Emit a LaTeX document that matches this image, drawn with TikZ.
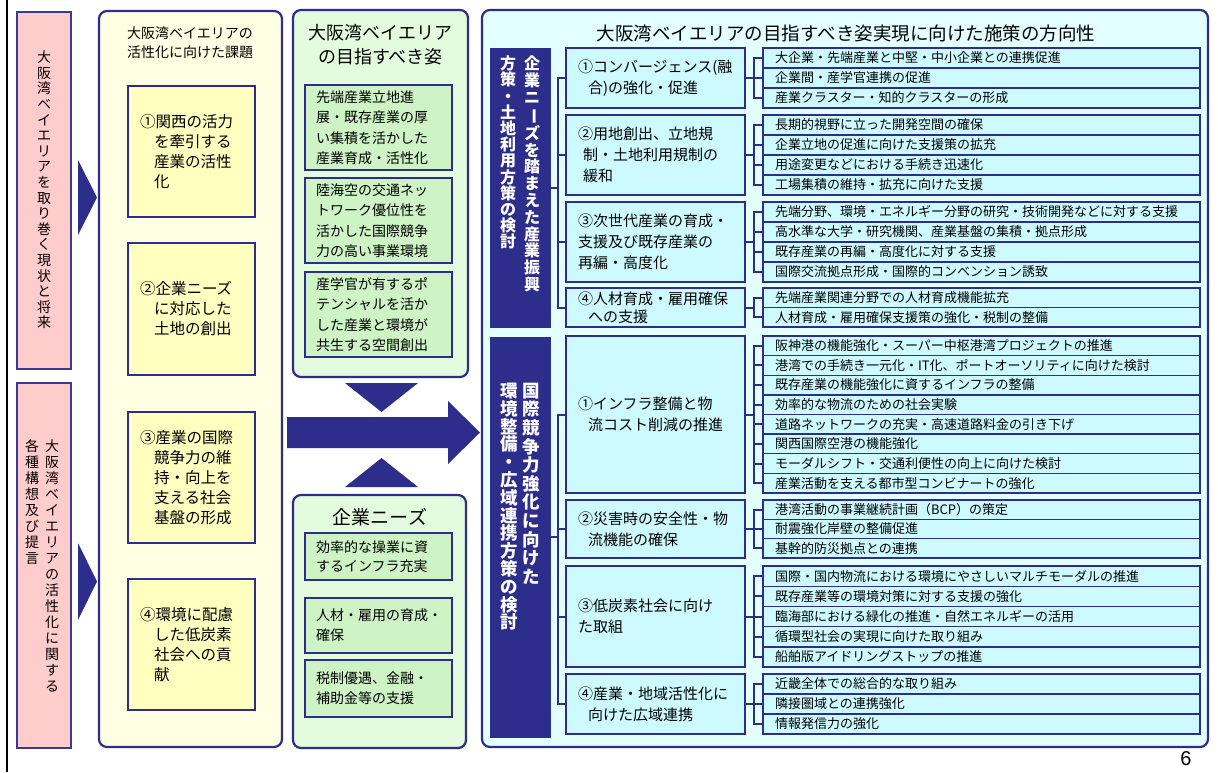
\documentclass[tikz,border=0pt]{standalone}
\usepackage{fontspec}
\setmainfont{Noto Sans CJK JP}
\newfontfamily\lib{Liberation Sans}
\usepackage{graphicx}
\definecolor{navy}{RGB}{45,45,140}
\definecolor{bord}{RGB}{58,58,150}
\definecolor{pinkf}{RGB}{255,204,204}
\definecolor{ycol}{RGB}{255,255,228}
\definecolor{yin}{RGB}{255,255,192}
\definecolor{gcol}{RGB}{228,252,222}
\definecolor{gin}{RGB}{206,244,198}
\definecolor{ccol}{RGB}{228,255,255}
\definecolor{cin}{RGB}{204,250,255}
\newcommand\vb{\rotatebox[origin=c]{-90}{ー}}
\newcommand\fs[2]{\fontsize{#1}{#2}\selectfont}
\newcommand\leafgroup[6]{%
  \pgfmathsetmacro\lh{(#4-#3)/#5}%
  \foreach \txt [count=\i] in {#6}{%
    \node[leaf, minimum height=\lh pt] (#2-\i) at (763,{#3+(\i-1)*\lh}) {\txt};
    \draw[brk] (#1.east) -- ++(9,0) |- (#2-\i.west);
  }%
}
\begin{document}
\begin{tikzpicture}[x=1pt,y=-1pt,
  every node/.style={inner sep=0pt, outer sep=0pt},
  colbox/.style={draw=navy, line width=2.2pt, rounded corners=8pt, anchor=north west},
  pinkbox/.style={draw=bord, line width=1.5pt, fill=pinkf, anchor=north west},
  ybox/.style={draw=navy, line width=1.6pt, fill=yin, anchor=north west, minimum width=127pt, text width=103pt, inner xsep=12pt, align=left, font=\fs{15.5}{20}},
  gbox/.style={draw=navy, line width=1.6pt, fill=gin, anchor=north west, minimum width=147pt, text width=125pt, inner xsep=11pt, align=left, font=\fs{14}{20.5}},
  dbox/.style={draw=navy, fill=navy, anchor=north west, minimum width=60pt},
  dtext/.style={text=white, align=center, anchor=north},
  sbox/.style={draw=navy, line width=1.8pt, fill=cin, anchor=north west, minimum width=179pt, text width=155pt, inner xsep=12pt, align=left, font=\fs{15}{21}},
  leaf/.style={draw=navy, line width=1.4pt, fill=cin, anchor=north west, minimum width=437pt, text width=413pt, inner xsep=12pt, align=left, font=\fs{13}{15}},
  brk/.style={draw=navy, line width=2pt},
  vt/.style={align=center, font=\fs{14}{15.6}},
  arr/.style={fill=navy}
]
\fill[white] (0,0) rectangle (1218,772);
\useasboundingbox (0,0) rectangle (1218,772);
\draw[line width=2pt] (7,0) -- (7,772);

% left pink boxes
\node[pinkbox, minimum width=54pt, minimum height=357pt] (p1) at (17,12) {};
\node[pinkbox, minimum width=54pt, minimum height=365pt] (p2) at (17,383) {};
\node[vt] (p1t) at (44,190) {大\\阪\\湾\\ベ\\イ\\エ\\リ\\ア\\を\\取\\り\\巻\\く\\現\\状\\と\\将\\来};
\node[vt, font=\fs{14}{16}, anchor=north] (p2a) at (52,440) {大\\阪\\湾\\ベ\\イ\\エ\\リ\\ア\\の\\活\\性\\化\\に\\関\\す\\る};
\node[vt, font=\fs{14}{16}, anchor=north] (p2b) at (32,440) {各\\種\\構\\想\\及\\び\\提\\言};
\fill[arr] (78,160) -- (78,235) -- (97,197.5) -- cycle;
\fill[arr] (78,543) -- (78,620) -- (97,581.5) -- cycle;

% column 2
\node[colbox, fill=ycol, minimum width=183pt, minimum height=736pt] (c2) at (99,11) {};
\node[font=\fs{14}{19}, align=center] (c2t) at (190,42.5) {大阪湾ベイエリアの\\活性化に向けた課題};
\node[ybox, minimum height=131pt] (y1) at (128,86) {①関西の活力\\\hspace*{14pt}を牽引する\\\hspace*{14pt}産業の活性\\\hspace*{14pt}化};
\node[ybox, minimum height=132pt] (y2) at (128,243) {②企業ニーズ\\\hspace*{14pt}に対応した\\\hspace*{14pt}土地の創出};
\node[ybox, minimum height=131pt] (y3) at (128,412) {③産業の国際\\\hspace*{14pt}競争力の維\\\hspace*{14pt}持・向上を\\\hspace*{14pt}支える社会\\\hspace*{14pt}基盤の形成};
\node[ybox, minimum height=131pt] (y4) at (128,579) {④環境に配慮\\\hspace*{14pt}した低炭素\\\hspace*{14pt}社会への貢\\\hspace*{14pt}献};

% column 3 top
\node[colbox, fill=gcol, minimum width=175pt, minimum height=367pt] (c3) at (293,10) {};
\node[font=\fs{18}{24}, align=center] (c3t) at (380.5,45) {大阪湾ベイエリア\\の目指すべき姿};
\node[gbox, minimum height=85pt] (g1) at (305,85) {先端産業立地進\\展・既存産業の厚\\い集積を活かした\\産業育成・活性化};
\node[gbox, minimum height=85pt] (g2) at (305,178) {陸海空の交通ネッ\\トワーク優位性を\\活かした国際競争\\力の高い事業環境};
\node[gbox, minimum height=85pt] (g3) at (305,272) {産学官が有するポ\\テンシャルを活か\\した産業と環境が\\共生する空間創出};

% middle arrows
\fill[arr] (345,383) -- (418,383) -- (381.5,412) -- cycle;
\fill[arr] (345,487) -- (418,487) -- (381.5,458) -- cycle;
\fill[arr] (287,417) -- (448,417) -- (448,401) -- (480,432.5) -- (448,464) -- (448,448) -- (287,448) -- cycle;

% column 3 bottom
\node[colbox, fill=gcol, minimum width=173pt, minimum height=253pt] (c4) at (293,495) {};
\node[font=\fs{19}{22}] (c4t) at (380,517) {企業ニーズ};
\node[gbox, minimum height=47pt, font=\fs{14}{18.5}] (n1) at (305,533) {効率的な操業に資\\するインフラ充実};
\node[gbox, minimum height=55pt, font=\fs{14}{20}] (n2) at (305,598) {人材・雇用の育成・\\確保};
\node[gbox, minimum height=57pt, font=\fs{14}{20}] (n3) at (305,660) {税制優遇、金融・\\補助金等の支援};

% right section
\node[colbox, fill=ccol, minimum width=726pt, minimum height=737pt] (c5) at (482,10) {};
\node[font=\fs{18.5}{22}] (c5t) at (846,33) {大阪湾ベイエリアの目指すべき姿実現に向けた施策の方向性};

\node[dbox, minimum height=279pt] (d1) at (490,48) {};
\node[dtext, font=\bfseries\fs{16}{16.8}] (d1a) at (532,56) {企\\業\\ニ\\\vb\\ズ\\を\\踏\\ま\\え\\た\\産\\業\\振\\興};
\node[dtext, font=\bfseries\fs{16}{16.2}] (d1b) at (508,56) {方\\策\\・\\土\\地\\利\\用\\方\\策\\の\\検\\討};
\node[dbox, minimum height=400pt] (d2) at (490,337) {};
\node[dtext, font=\bfseries\fs{17.5}{18.6}] (d2a) at (531,383) {国\\際\\競\\争\\力\\強\\化\\に\\向\\け\\た};
\node[dtext, font=\bfseries\fs{17.5}{17.8}] (d2b) at (509,383) {環\\境\\整\\備\\・\\広\\域\\連\\携\\方\\策\\の\\検\\討};

\node[sbox, minimum height=60pt] (s1) at (566,48) {①コンバージェンス(融\\\hspace*{10pt}合)の強化・促進};
\node[sbox, minimum height=80pt] (s2) at (566,115) {②用地創出、立地規\\\hspace*{5pt}制・土地利用規制の\\\hspace*{5pt}緩和};
\node[sbox, minimum height=80pt] (s3) at (566,202) {③次世代産業の育成・\\支援及び既存産業の\\再編・高度化};
\node[sbox, minimum height=39pt, font=\fs{15}{18}] (s4) at (566,288) {④人材育成・雇用確保\\\hspace*{10pt}への支援};
\node[sbox, minimum height=157pt] (s5) at (566,336) {①インフラ整備と物\\\hspace*{10pt}流コスト削減の推進};
\node[sbox, minimum height=58pt] (s6) at (566,500) {②災害時の安全性・物\\\hspace*{10pt}流機能の確保};
\node[sbox, minimum height=101pt] (s7) at (566,566) {③低炭素社会に向け\\た取組};
\node[sbox, minimum height=60pt] (s8) at (566,674) {④産業・地域活性化に\\\hspace*{10pt}向けた広域連携};

\foreach \s in {s1,s2,s3,s4} \draw[brk] (d1.east) -- ++(8,0) |- (\s.west);
\foreach \s in {s5,s6,s7,s8} \draw[brk] (d2.east) -- ++(8,0) |- (\s.west);

\leafgroup{s1}{a}{48}{108}{3}{大企業・先端産業と中堅・中小企業との連携促進,企業間・産学官連携の促進,産業クラスター・知的クラスターの形成}
\leafgroup{s2}{b}{115}{195}{4}{長期的視野に立った開発空間の確保,企業立地の促進に向けた支援策の拡充,用途変更などにおける手続き迅速化,工場集積の維持・拡充に向けた支援}
\leafgroup{s3}{c}{202}{282}{4}{先端分野、環境・エネルギー分野の研究・技術開発などに対する支援,高水準な大学・研究機関、産業基盤の集積・拠点形成,既存産業の再編・高度化に対する支援,国際交流拠点形成・国際的コンベンション誘致}
\leafgroup{s4}{d}{288}{327}{2}{先端産業関連分野での人材育成機能拡充,人材育成・雇用確保支援策の強化・税制の整備}
\leafgroup{s5}{e}{336}{493}{8}{阪神港の機能強化・スーパー中枢港湾プロジェクトの推進,港湾での手続き一元化・IT化、ポートオーソリティに向けた検討,既存産業の機能強化に資するインフラの整備,効率的な物流のための社会実験,道路ネットワークの充実・高速道路料金の引き下げ,関西国際空港の機能強化,モーダルシフト・交通利便性の向上に向けた検討,産業活動を支える都市型コンビナートの強化}
\leafgroup{s6}{f}{500}{558}{3}{港湾活動の事業継続計画（BCP）の策定,耐震強化岸壁の整備促進,基幹的防災拠点との連携}
\leafgroup{s7}{g}{566}{667}{5}{国際・国内物流における環境にやさしいマルチモーダルの推進,既存産業等の環境対策に対する支援の強化,臨海部における緑化の推進・自然エネルギーの活用,循環型社会の実現に向けた取り組み,船舶版アイドリングストップの推進}
\leafgroup{s8}{h}{674}{734}{3}{近畿全体での総合的な取り組み,隣接圏域との連携強化,情報発信力の強化}

\node[font=\lib\fs{20}{22}] (pg) at (1186,759) {6};
\end{tikzpicture}
\end{document}
